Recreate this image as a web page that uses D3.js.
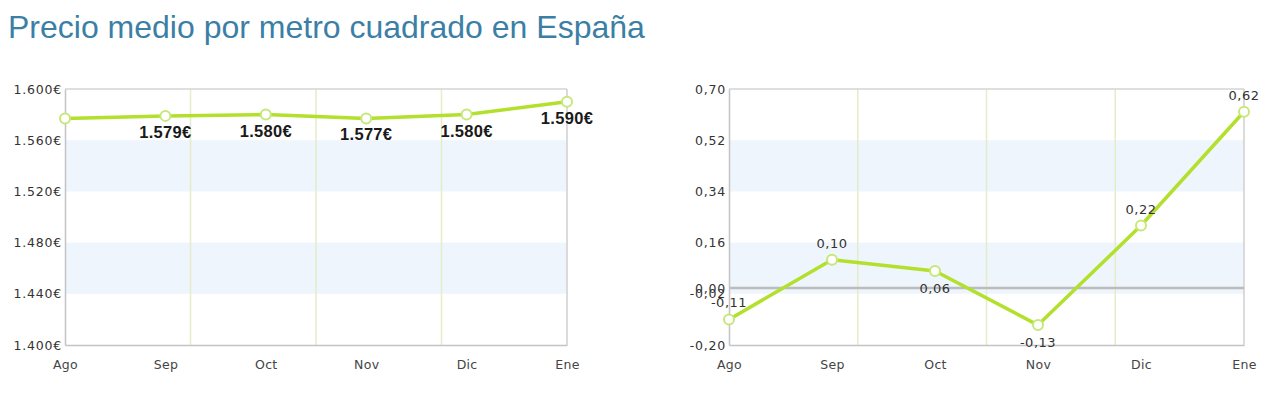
<!DOCTYPE html>
<html><head><meta charset="utf-8">
<script src="https://cdn.jsdelivr.net/npm/d3@7"></script>
<style>body{margin:0;background:#fff;} svg{display:block;}</style>
</head><body>
<svg id="c" width="1280" height="399"></svg>
<script>
const title = "Precio medio por metro cuadrado en España";
const months = ["Ago","Sep","Oct","Nov","Dic","Ene"];
const priceValues = [1577, 1579, 1580, 1577, 1580, 1590];
const priceLabels = [null, "1.579€", "1.580€", "1.577€", "1.580€", "1.590€"];
const priceTicks = [1400, 1440, 1480, 1520, 1560, 1600];
const priceTickLabels = ["1.400€","1.440€","1.480€","1.520€","1.560€","1.600€"];
const changeValues = [-0.11, 0.10, 0.06, -0.13, 0.22, 0.62];
const changeLabels = ["-0,11","0,10","0,06","-0,13","0,22","0,62"];
const changeTicks = [-0.20, -0.02, 0.00, 0.16, 0.34, 0.52, 0.70];
const changeTickLabels = ["-0,20","-0,02","0,00","0,16","0,34","0,52","0,70"];
const gridDivisions = [1,2,3,4];

const svg = d3.select("#c");
svg.append("text").attr("x",8).attr("y",38).text(title)
  .attr("font-family","Liberation Sans, Arial, sans-serif").attr("font-size",32)
  .attr("fill","#3b7fa6");

const tickFont = "DejaVu Sans, Verdana, sans-serif";

function chart(opt){
  const {x0,x1,y0,y1,domain,ticks,tickLabels,values,labels,bands,zero,labelPos,labelStyle} = opt;
  const g = svg.append("g");
  const x = d3.scalePoint().domain(months).range([x0,x1]);
  const xg = d3.scaleLinear().domain([0,4]).range([x0,x1]);
  const y = d3.scaleLinear().domain(domain).range([y1,y0]);
  bands.forEach(b=>{
    g.append("rect").attr("x",x0).attr("width",x1-x0)
      .attr("y",y(b[1])).attr("height",y(b[0])-y(b[1])).attr("fill","#eef5fc");
  });
  g.selectAll(".vg").data(gridDivisions).join("line")
    .attr("x1",d=>xg(d)).attr("x2",d=>xg(d)).attr("y1",y0).attr("y2",y1)
    .attr("stroke", d=> d===4 ? "#cfcfcf" : "#e6ebc8").attr("stroke-width",1.5);
  g.append("line").attr("x1",x0).attr("x2",x1).attr("y1",y0).attr("y2",y0)
    .attr("stroke","#d4d4d4").attr("stroke-width",1.5);
  if (zero!==undefined){
    g.append("line").attr("x1",x0).attr("x2",x1).attr("y1",y(zero)).attr("y2",y(zero))
      .attr("stroke","#bcbcbc").attr("stroke-width",2.5);
  }
  const ya = d3.axisLeft(y).tickValues(ticks).tickSize(0).tickPadding(3)
    .tickFormat((d,i)=>tickLabels[i]);
  const yg = g.append("g").attr("transform",`translate(${x0},0)`).call(ya);
  yg.select(".domain").attr("stroke","#c4c4c4").attr("stroke-width",1.5);
  yg.selectAll("text").attr("font-family",tickFont).attr("font-size",12.5)
    .attr("letter-spacing",0.8).attr("fill","#333");
  const xa = d3.axisBottom(x).tickSize(0).tickPadding(15);
  const xgA = g.append("g").attr("transform",`translate(0,${y1})`).call(xa);
  xgA.select(".domain").attr("stroke","#c4c4c4").attr("stroke-width",1.5);
  xgA.selectAll("text").attr("font-family",tickFont).attr("font-size",12.5)
    .attr("letter-spacing",0.3).attr("fill","#444");
  const line = d3.line().x((d,i)=>x(months[i])).y(d=>y(d));
  g.append("path").datum(values).attr("d",line).attr("fill","none")
    .attr("stroke","#b3e02c").attr("stroke-width",3.5).attr("stroke-linejoin","round");
  g.selectAll(".pt").data(values).join("circle")
    .attr("cx",(d,i)=>x(months[i])).attr("cy",d=>y(d)).attr("r",5)
    .attr("fill","#fff").attr("stroke","#c6e87a").attr("stroke-width",2);
  const idx = d3.range(values.length).filter(i=>labels[i]!==null);
  g.selectAll(".lb").data(idx).join("text")
    .attr("x",i=>x(months[i]))
    .attr("y",i=>y(values[i]) + (labelPos(i) ? 22 : -12))
    .attr("text-anchor","middle")
    .text(i=>labels[i])
    .each(function(){ labelStyle(d3.select(this)); });
  return g;
}

chart({x0:65,x1:567,y0:89,y1:345,domain:[1400,1600],ticks:priceTicks,tickLabels:priceTickLabels,
  values:priceValues,labels:priceLabels,bands:[[1520,1560],[1440,1480]],
  labelPos:()=>true,
  labelStyle:s=>s.attr("font-family","Liberation Sans, Arial, sans-serif").attr("font-weight","bold")
    .attr("font-size",16.5).attr("letter-spacing",0.3).attr("fill","#1a1a1a")});

chart({x0:729,x1:1244,y0:89,y1:345,domain:[-0.20,0.70],ticks:changeTicks,tickLabels:changeTickLabels,
  values:changeValues,labels:changeLabels,bands:[[0.34,0.52],[-0.02,0.16]],zero:0,
  labelPos:i=> i>0 && changeValues[i] < changeValues[i-1],
  labelStyle:s=>s.attr("font-family",tickFont).attr("font-size",13).attr("letter-spacing",0.5).attr("fill","#333")});
</script>
</body></html>
